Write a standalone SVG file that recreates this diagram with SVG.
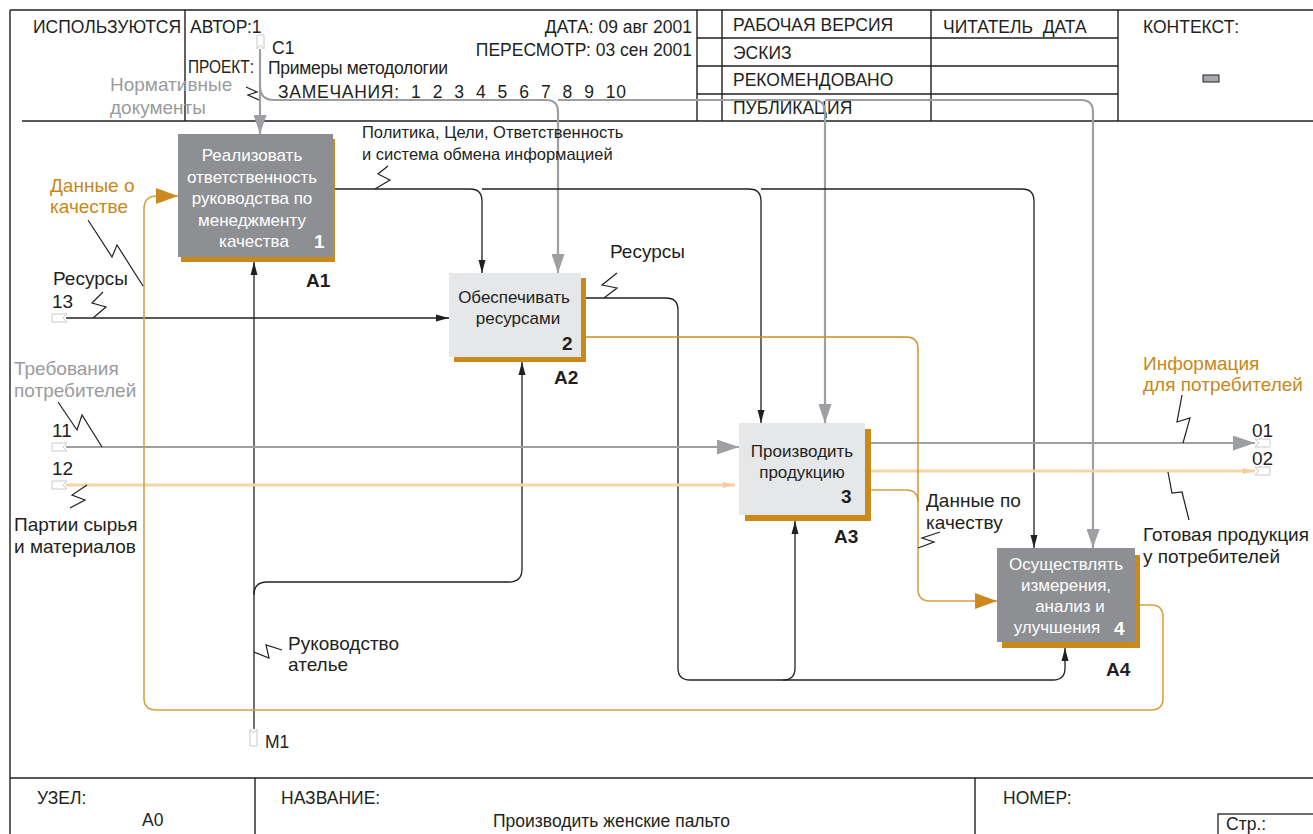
<svg xmlns="http://www.w3.org/2000/svg" width="1313" height="834" viewBox="0 0 1313 834">
<style>
text{font-family:"Liberation Sans",Arial,sans-serif;fill:#231f20}
.h{font-size:17.5px}
.l{font-size:19px}
.s{font-size:16.5px}
.bx{font-size:17px;text-anchor:middle}
.w{fill:#fff}
.g{fill:#9a9b9e}
.o{fill:#c8871a}
.b{font-weight:bold;font-size:19px}
.fr{stroke:#231f20;stroke-width:1.4;fill:none}
.k{stroke:#231f20;stroke-width:1.3;fill:none}
.gy{stroke:#9d9fa2;stroke-width:2.2;fill:none}
.or{stroke:#d9a043;stroke-width:1.6;fill:none}
.or2{stroke:#d08c1f;stroke-width:1.4;fill:none}
.lo{stroke:#f5d4a6;stroke-width:3;fill:none}
.sq{stroke:#231f20;stroke-width:1.2;fill:none}
.icom{fill:#fff;stroke:#c9cacc;stroke-width:1}
.shadow{fill:#c98a1b}
.dark{fill:#8e8f92}
.light{fill:#e6e7e8}
</style>
<defs>
<marker id="ab" markerUnits="userSpaceOnUse" markerWidth="13" markerHeight="8" refX="13" refY="4" orient="auto"><path d="M0,0.5 L13,4 L0,7.5 z" fill="#231f20"/></marker>
<marker id="agc" markerUnits="userSpaceOnUse" markerWidth="19" markerHeight="13" refX="19" refY="6.5" orient="auto"><path d="M0,0 L19,6.5 L0,13 z" fill="#9d9fa2"/></marker>
<marker id="agb" markerUnits="userSpaceOnUse" markerWidth="22" markerHeight="15" refX="22" refY="7.5" orient="auto"><path d="M0,0 L22,7.5 L0,15 z" fill="#9d9fa2"/></marker>
<marker id="ao" markerUnits="userSpaceOnUse" markerWidth="22" markerHeight="16" refX="22" refY="8" orient="auto"><path d="M0,0 L22,8 L0,16 z" fill="#cc8a1e"/></marker>
<marker id="al" markerUnits="userSpaceOnUse" markerWidth="12" markerHeight="6" refX="12" refY="3" orient="auto"><path d="M0,0 L12,3 L0,6 z" fill="#f3cf9f"/></marker>
</defs>
<rect width="1313" height="834" fill="#fff"/>

<g id="frame">
<path class="fr" d="M10 10 H1313 M10 10 V834 M22 121 H1313 M185 10 V121 M697 10 V121 M722 10 V121 M931 10 V121 M1118 10 V121 M697 38 H1118 M697 66 H1118 M697 94 H1118 M10 778 H1313 M255 778 V834 M975 778 V834"/>
<rect x="1218" y="814" width="100" height="25" fill="none" stroke="#231f20" stroke-width="1.3"/>
<rect x="1203" y="75" width="16" height="7" fill="#a7a9ac" stroke="#231f20" stroke-width="1"/>
</g>

<g id="header-text">
<text class="h" x="33" y="33">ИСПОЛЬЗУЮТСЯ</text>
<text class="h" x="190" y="33">АВТОР:1</text>
<text class="h" x="692" y="33" text-anchor="end">ДАТА: 09 авг 2001</text>
<text class="h" x="692" y="56" text-anchor="end">ПЕРЕСМОТР: 03 сен 2001</text>
<text class="h" x="188" y="73" font-size="15.5" textLength="66" lengthAdjust="spacingAndGlyphs">ПРОЕКТ:</text>
<text class="h" x="268" y="74" font-size="15.5" textLength="180" lengthAdjust="spacing">Примеры методологии</text>
<text class="h" x="278" y="98" xml:space="preserve" textLength="348" lengthAdjust="spacing">ЗАМЕЧАНИЯ:  1  2  3  4  5  6  7  8  9  10</text>
<text class="h" x="733" y="31">РАБОЧАЯ ВЕРСИЯ</text>
<text class="h" x="733" y="59">ЭСКИЗ</text>
<text class="h" x="733" y="86">РЕКОМЕНДОВАНО</text>
<text class="h" x="733" y="114">ПУБЛИКАЦИЯ</text>
<text class="h" x="943" y="33" xml:space="preserve">ЧИТАТЕЛЬ  ДАТА</text>
<text class="h" x="1143" y="33">КОНТЕКСТ:</text>
</g>

<g id="footer-text">
<text class="h" x="37" y="804">УЗЕЛ:</text>
<text class="h" x="142" y="826">А0</text>
<text class="h" x="281" y="804">НАЗВАНИЕ:</text>
<text class="h" x="493" y="827" font-size="17">Производить женские пальто</text>
<text class="h" x="1003" y="804">НОМЕР:</text>
<text class="h" x="1226" y="830" font-size="15">Стр.:</text>
</g>

<g id="connectors">
<path class="gy" d="M260 49 V134" marker-end="url(#agc)"/>
<path class="gy" d="M260 86 Q260 100 274 100 H546 Q558 100 558 112 V273" marker-end="url(#agc)"/>
<path class="gy" d="M558 100 H813 Q825 100 825 112 V423" marker-end="url(#agc)"/>
<path class="gy" d="M825 100 H1081 Q1093 100 1093 112 V548" marker-end="url(#agc)"/>
<path class="k" d="M335 189 H470 Q482 189 482 201 V273" marker-end="url(#ab)"/>
<path class="k" d="M482 189 H749 Q761 189 761 201 V423" marker-end="url(#ab)"/>
<path class="k" d="M761 189 H1022 Q1034 189 1034 201 V548" marker-end="url(#ab)"/>
<path class="k" d="M66 318 H449" marker-end="url(#ab)"/>
<path class="k" d="M254 729 V262" marker-end="url(#ab)"/>
<path class="k" d="M254 595 Q254 582 267 582 H509 Q522 582 522 569 V362" marker-end="url(#ab)"/>
<path class="k" d="M586 298 H666 Q678 298 678 310 V668 Q678 680 690 680 H1053 Q1065 680 1065 668 V648" marker-end="url(#ab)"/>
<path class="k" d="M783 680 Q795 680 795 668 V521" marker-end="url(#ab)"/>
<path class="gy" d="M66 447 H739" marker-end="url(#agb)"/>
<path class="lo" d="M66 485 H735" marker-end="url(#al)"/>
<path class="gy" d="M871 443 H1255" marker-end="url(#agb)"/>
<path class="lo" d="M871 471 H1255" marker-end="url(#al)"/>
<path class="or" d="M871 490 H906 Q918 490 918 502 V589 Q918 601 930 601 H997" marker-end="url(#ao)"/>
<path class="or2" d="M586 337 H906 Q918 337 918 349 V502"/>
<path class="or" d="M1140 605 H1151 Q1163 605 1163 617 V698 Q1163 710 1151 710 H156 Q144 710 144 698 V209 Q144 196 157 196 H178" marker-end="url(#ao)"/>
<polyline class="sq" points="246,87 257,92 248,95 259,100"/>
<polyline class="sq" points="375,189 390,180 378,174 388,166"/>
<polyline class="sq" points="88,220 112,257 117,245 143,286"/>
<polyline class="sq" points="103,292 92,303 106,307 93,318"/>
<polyline class="sq" points="617,273 602,285 617,288 604,298"/>
<polyline class="sq" points="58,402 77,430 82,415 102,447"/>
<polyline class="sq" points="87,485 72,495 85,500 70,508"/>
<polyline class="sq" points="1182,395 1177,422 1190,418 1183,443"/>
<polyline class="sq" points="1168,472 1172,493 1182,492 1189,520"/>
<polyline class="sq" points="918,548 934,542 922,538 940,532"/>
<polyline class="sq" points="254,652 269,658 266,645 282,650"/>
<polygon class="icom" points="257,35 264,35 264,49 260.5,45 257,49"/>
<polygon class="icom" points="250,746 250,729 253.5,733 257,729 257,746"/>
<polygon class="icom" points="52,314 67,314 63,318 67,322 52,322"/>
<polygon class="icom" points="52,443 67,443 63,447 67,451 52,451"/>
<polygon class="icom" points="52,481 67,481 63,485 67,489 52,489"/>
<polygon class="icom" points="1255,439 1270,439 1270,447 1255,447 1259,443"/>
<polygon class="icom" points="1255,467 1270,467 1270,475 1255,475 1259,471"/>
</g>

<g id="labels">
<text class="l g" x="110" y="91">Нормативные</text>
<text class="l g" x="110" y="114">документы</text>
<text class="h" x="272" y="54">С1</text>
<text class="s" x="362" y="138">Политика, Цели, Ответственность</text>
<text class="s" x="362" y="160">и система обмена информацией</text>
<text class="l o" x="50" y="192">Данные о</text>
<text class="l o" x="50" y="213">качестве</text>
<text class="l" x="53" y="285">Ресурсы</text>
<text class="l" x="52" y="308">13</text>
<text class="l" x="610" y="258">Ресурсы</text>
<text class="l g" x="14" y="375">Требования</text>
<text class="l g" x="14" y="397">потребителей</text>
<text class="l" x="52" y="437">11</text>
<text class="l" x="52" y="475">12</text>
<text class="l" x="14" y="531">Партии сырья</text>
<text class="l" x="14" y="553">и материалов</text>
<text class="l o" x="1143" y="370">Информация</text>
<text class="l o" x="1143" y="391">для потребителей</text>
<text class="l" x="1252" y="437">01</text>
<text class="l" x="1252" y="465">02</text>
<text class="l" x="1143" y="541">Готовая продукция</text>
<text class="l" x="1143" y="563">у потребителей</text>
<text class="l" x="926" y="507">Данные по</text>
<text class="l" x="926" y="529">качеству</text>
<text class="l" x="288" y="650">Руководство</text>
<text class="l" x="288" y="671">ателье</text>
<text class="h" x="265" y="748">М1</text>
</g>

<g id="A1">
<rect class="shadow" x="181" y="139" width="154" height="123"/>
<rect class="dark" x="178" y="134" width="155" height="123"/>
<text class="bx w" x="252" y="161">Реализовать</text>
<text class="bx w" x="252" y="183">ответственность</text>
<text class="bx w" x="252" y="204">руководства по</text>
<text class="bx w" x="252" y="226">менеджменту</text>
<text class="bx w" x="254" y="247">качества</text>
<text class="b w" x="314" y="248">1</text>
<text class="b" x="306" y="287">А1</text>
</g>

<g id="A2">
<rect class="shadow" x="454" y="278" width="132" height="84"/>
<rect class="light" x="449" y="273" width="132" height="84"/>
<text class="bx" x="514" y="303">Обеспечивать</text>
<text class="bx" x="518" y="324">ресурсами</text>
<text class="b" x="562" y="350">2</text>
<text class="b" x="554" y="384">А2</text>
</g>

<g id="A3">
<rect class="shadow" x="745" y="429" width="126" height="92"/>
<rect class="light" x="739" y="423" width="126" height="92"/>
<text class="bx" x="802" y="457">Производить</text>
<text class="bx" x="802" y="478">продукцию</text>
<text class="b" x="841" y="503">3</text>
<text class="b" x="834" y="543">А3</text>
</g>

<g id="A4">
<rect class="shadow" x="1002" y="555" width="138" height="93"/>
<rect class="dark" x="997" y="548" width="138" height="94"/>
<text class="bx w" x="1066" y="570">Осуществлять</text>
<text class="bx w" x="1066" y="591">измерения,</text>
<text class="bx w" x="1070" y="612">анализ и</text>
<text class="bx w" x="1057" y="633">улучшения</text>
<text class="b w" x="1114" y="635">4</text>
<text class="b" x="1106" y="676">А4</text>
</g>
</svg>
